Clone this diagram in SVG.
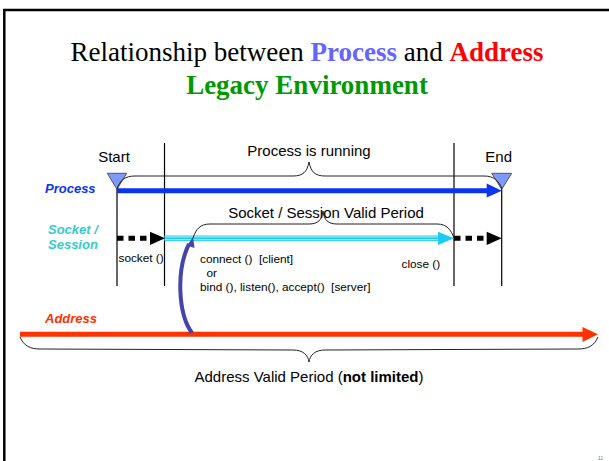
<svg xmlns="http://www.w3.org/2000/svg" width="609" height="461" viewBox="0 0 609 461">
<style>
.t{font-family:"Liberation Serif","Times New Roman",serif;font-size:27px}
.s{font-family:"Liberation Sans",Arial,sans-serif}
.lbl{font-family:"Liberation Sans",Arial,sans-serif;font-size:13px;font-weight:bold;font-style:italic}
.brace{fill:none;stroke:#222;stroke-width:1}
.vline{stroke:#000;stroke-width:1.2}
.small{font-family:"Liberation Sans",Arial,sans-serif;font-size:11.8px;fill:#000;white-space:pre}
</style>
<rect width="609" height="461" fill="#fff"/>
<g id="frame">
<line x1="3" y1="10" x2="609" y2="10" stroke="#000" stroke-width="2.5"/>
<line x1="4.3" y1="9" x2="4.3" y2="461" stroke="#000" stroke-width="2.5"/>
</g>
<g id="title">
<text class="t" x="307" y="61" text-anchor="middle">Relationship between <tspan font-weight="bold" fill="#6666FF">Process</tspan> and <tspan font-weight="bold" fill="#FF0000">Address</tspan></text>
<text class="t" x="307" y="94" text-anchor="middle" font-weight="bold" fill="#009900">Legacy Environment</text>
</g>
<g id="guides">
<line class="vline" x1="117" y1="180" x2="117" y2="286"/>
<line class="vline" x1="164.5" y1="143" x2="164.5" y2="286"/>
<line class="vline" x1="454" y1="143" x2="454" y2="286"/>
<line class="vline" x1="501.7" y1="180" x2="501.7" y2="286"/>
</g>
<g id="labels">
<text class="s" x="114" y="162" font-size="15" text-anchor="middle">Start</text>
<text class="s" x="498.7" y="162" font-size="15" text-anchor="middle">End</text>
<text class="lbl" x="45" y="193" fill="#0A35F0">Process</text>
<text class="lbl" x="48" y="233.5" fill="#33CCCC">Socket /</text>
<text class="lbl" x="48" y="249" fill="#33CCCC">Session</text>
<text class="lbl" x="45" y="322.5" fill="#FF3300">Address</text>
</g>
<g id="connectors">
<line x1="117" y1="190.7" x2="488" y2="190.7" stroke="#0A35F0" stroke-width="5"/>
<polygon points="486.7,183.5 501.7,190.7 486.7,197.5" fill="#0A35F0"/>
<line x1="117" y1="238.3" x2="150" y2="238.3" stroke="#000" stroke-width="5" stroke-dasharray="6.5 5"/>
<polygon points="150,231.7 165,238.3 150,245" fill="#000"/>
<line x1="164.5" y1="238.3" x2="440" y2="238.3" stroke="#1ACCF5" stroke-width="5.5"/>
<line x1="164.5" y1="236.9" x2="440" y2="236.9" stroke="#fff" stroke-width="0.7"/>
<line x1="164.5" y1="239.7" x2="440" y2="239.7" stroke="#fff" stroke-width="0.7"/>
<polygon points="438,231.7 454,238.3 438,245" fill="#1ACCF5"/>
<line x1="454" y1="238.3" x2="487" y2="238.3" stroke="#000" stroke-width="5" stroke-dasharray="6.5 5"/>
<polygon points="486.7,231.7 501.7,238.3 486.7,245" fill="#000"/>
<line x1="20" y1="334.3" x2="584" y2="334.3" stroke="#FF3300" stroke-width="5"/>
<polygon points="582.5,327 598,334.3 582.5,342" fill="#FF3300"/>
<path d="M192,333 C178,314 176,270 189,244" fill="none" stroke="#4444AA" stroke-width="4"/>
<polygon points="193,237 194.5,248 187,245.5" fill="#4444AA"/>
</g>
<g id="startTriangle"><polygon points="107.3,173.3 126.7,173.3 117,189.3" fill="#8099FF" stroke="#555" stroke-width="1"/></g>
<g id="endTriangle"><polygon points="491.7,173.3 511.7,173.3 501.7,189.3" fill="#8099FF" stroke="#555" stroke-width="1"/></g>
<g id="braces">
<path class="brace" d="M117,189 C120,180 125,176 135,176 L293,176 C303,176 307,172 309,162 C311,172 315,176 325,176 L484,176 C494,176 499,181 502,189"/>
<path class="brace" d="M193,238 C196,229 200,224 210,224 L309,224 C318,224 322,220 323,211 C324,220 328,224 337,224 L437,224 C447,224 451,230 454,238"/>
<path class="brace" d="M20,337 C24,346 30,349 40,349 L293,350 C303,350 308,355 309,362 C310,355 315,350 325,350 L578,349 C588,349 594,346 598,337"/>
</g>
<g id="texts">
<text class="s" x="309" y="156" font-size="15" text-anchor="middle">Process is running</text>
<text class="s" x="326" y="217.5" font-size="15" text-anchor="middle">Socket / Session Valid Period</text>
<text class="small" x="118.5" y="262">socket ()</text>
<text class="small" x="200" y="262.5">connect ()  [client]</text>
<text class="small" x="206.5" y="277">or</text>
<text class="small" x="200" y="291">bind (), listen(), accept()  [server]</text>
<text class="small" x="401.5" y="267.5">close ()</text>
<text class="s" x="309" y="382" font-size="15" text-anchor="middle">Address Valid Period (<tspan font-weight="bold">not limited</tspan>)</text>
<text class="s" x="598" y="460" font-size="5" fill="#777">11</text>
</g>
</svg>
